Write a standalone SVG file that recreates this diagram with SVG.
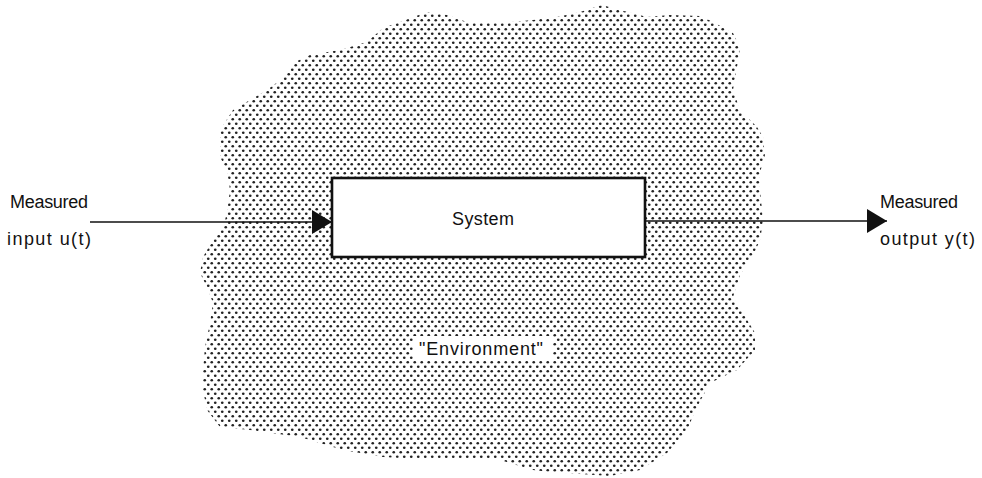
<svg xmlns="http://www.w3.org/2000/svg" width="982" height="478" viewBox="0 0 982 478">
  <style>
    .lbl { font-family: "Liberation Sans", Arial, sans-serif; font-size: 18px; fill: #111; }
    .wire { stroke: #111; stroke-width: 1.6; fill: none; }
    .box { fill: #fff; stroke: #111; stroke-width: 2.6; }
  </style>
  <defs>
    <!-- halftone dot screen for the environment region -->
    <pattern id="dots" width="7" height="9" patternUnits="userSpaceOnUse">
      <circle cx="1.75" cy="2.25" r="1.35" fill="#222"/>
      <circle cx="5.25" cy="6.75" r="1.35" fill="#222"/>
    </pattern>
    <marker id="head" markerWidth="20" markerHeight="24" refX="20" refY="12" orient="auto" markerUnits="userSpaceOnUse">
      <path d="M0,0 L20,12 L0,24 Z" fill="#111"/>
    </marker>
  </defs>

  <rect width="982" height="478" fill="#fff"/>

  <!-- environment: irregular shaded blob -->
  <g id="environment">
    <path fill="url(#dots)" d="M220,130 L233,110 L250,100 L267,90 L283,78 L293,63 L310,55 L340,50 L367,42 L383,28 L400,22 L427,12 L447,15 L467,22 L500,23 L533,20 L557,17 L580,12 L602,5 L620,10 L647,17 L670,15 L700,16 L713,22 L733,33 L740,48 L737,67 L733,90 L740,110 L757,127 L763,137 L765,157 L760,172 L760,190 L762,210 L763,222 L760,240 L753,256 L740,275 L733,297 L743,313 L755,333 L755,350 L737,370 L710,383 L697,407 L687,430 L667,453 L640,470 L610,476 L580,474 L550,472 L533,470 L500,460 L470,460 L433,460 L383,457 L343,450 L300,437 L250,430 L220,427 L207,410 L203,390 L203,370 L205,347 L210,323 L213,303 L207,287 L200,273 L203,257 L213,240 L223,227 L227,213 L230,190 L227,170 L220,157 Z"/>
    <rect x="413" y="336" width="140" height="25" fill="#fff"/>
    <text class="lbl" x="419" y="355" textLength="124" lengthAdjust="spacing">"Environment"</text>
  </g>

  <!-- connectors -->
  <g id="connectors">
    <line class="wire" x1="90" y1="222" x2="332" y2="222" marker-end="url(#head)"/>
    <line class="wire" x1="645" y1="221" x2="887" y2="221" marker-end="url(#head)"/>
  </g>

  <!-- system block -->
  <g id="system">
    <rect class="box" x="332" y="178" width="313" height="79"/>
    <text class="lbl" x="452" y="225" textLength="62" lengthAdjust="spacing">System</text>
  </g>

  <!-- input label -->
  <g id="input">
    <text class="lbl" x="10" y="208" textLength="78" lengthAdjust="spacing">Measured</text>
    <text class="lbl" x="7" y="245" textLength="84" lengthAdjust="spacing">input u(t)</text>
  </g>

  <!-- output label -->
  <g id="output">
    <text class="lbl" x="880" y="208" textLength="78" lengthAdjust="spacing">Measured</text>
    <text class="lbl" x="880" y="245" textLength="95" lengthAdjust="spacing">output y(t)</text>
  </g>
</svg>
